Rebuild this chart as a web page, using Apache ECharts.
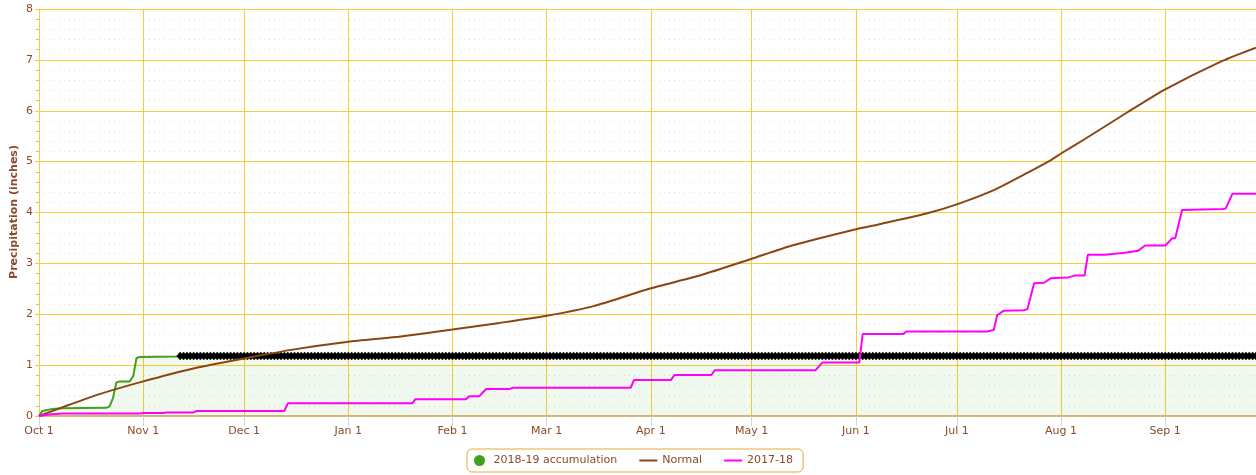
<!DOCTYPE html>
<html>
<head>
<meta charset="utf-8">
<script src="https://cdn.jsdelivr.net/npm/echarts@6/dist/echarts.min.js"></script>
<style>html,body{margin:0;padding:0;background:#fff}#c{width:1256px;height:475px}</style>
</head>
<body>
<div id="c"></div>
<script>
// ---- tick labels / categories (daily, Oct 1 2018 .. Sep 28 2019) ----
const monthNames = ['Jan','Feb','Mar','Apr','May','Jun','Jul','Aug','Sep','Oct','Nov','Dec'];
const categories = [];
for (let i = 0; i < 363; i++) {
  const dt = new Date(Date.UTC(2018, 9, 1 + i));
  categories.push(monthNames[dt.getUTCMonth()] + ' ' + dt.getUTCDate());
}
const yTicks = [0, 1, 2, 3, 4, 5, 6, 7, 8];
const yAxisTitle = 'Precipitation (inches)';

// ---- series values ----
const accum2019 = [
  ['Oct 1', 0], ['Oct 2', 0.10], ['Oct 5', 0.14], ['Oct 8', 0.15], ['Oct 21', 0.16],
  ['Oct 22', 0.19], ['Oct 23', 0.35], ['Oct 24', 0.66], ['Oct 25', 0.68], ['Oct 28', 0.68],
  ['Oct 29', 0.78], ['Oct 30', 1.14], ['Oct 31', 1.16], ['Nov 11', 1.17], ['Nov 12', 1.18]
];
const projectionValue = 1.18;
const projectionStart = 'Nov 12';

const normal = [
  ['Oct 1', 0], ['Oct 10', 0.22], ['Oct 19', 0.43], ['Nov 1', 0.68], ['Nov 15', 0.92], ['Dec 1', 1.13],
  ['Dec 15', 1.30], ['Jan 1', 1.46], ['Jan 16', 1.56], ['Feb 1', 1.70], ['Feb 15', 1.83],
  ['Mar 1', 1.97], ['Mar 15', 2.16], ['Apr 1', 2.51], ['Apr 16', 2.77], ['May 1', 3.09],
  ['May 13', 3.35], ['Jun 1', 3.67], ['Jun 8', 3.77], ['Jun 22', 3.98], ['Jul 1', 4.16],
  ['Jul 12', 4.44], ['Jul 22', 4.78], ['Jul 29', 5.03], ['Aug 1', 5.16], ['Aug 8', 5.44],
  ['Aug 21', 5.98], ['Sep 1', 6.42], ['Sep 18', 6.98], ['Sep 28', 7.24]
];

const prev1718 = [
  ['Oct 1', 0], ['Oct 4', 0.03], ['Oct 8', 0.05], ['Oct 31', 0.05], ['Nov 1', 0.06],
  ['Nov 7', 0.06], ['Nov 8', 0.07], ['Nov 16', 0.07], ['Nov 17', 0.10], ['Dec 13', 0.10],
  ['Dec 14', 0.25], ['Jan 20', 0.25], ['Jan 21', 0.33], ['Feb 5', 0.33], ['Feb 6', 0.39],
  ['Feb 9', 0.39], ['Feb 11', 0.53], ['Feb 18', 0.53], ['Feb 19', 0.555], ['Mar 26', 0.555],
  ['Mar 27', 0.71], ['Apr 7', 0.71], ['Apr 8', 0.805], ['Apr 19', 0.805], ['Apr 20', 0.90],
  ['May 20', 0.90], ['May 22', 1.05], ['Jun 2', 1.05], ['Jun 3', 1.61], ['Jun 15', 1.61],
  ['Jun 16', 1.66], ['Jul 10', 1.66], ['Jul 12', 1.69], ['Jul 13', 1.98], ['Jul 15', 2.07],
  ['Jul 21', 2.08], ['Jul 22', 2.10], ['Jul 24', 2.61], ['Jul 27', 2.62], ['Jul 29', 2.71],
  ['Aug 3', 2.72], ['Aug 5', 2.76], ['Aug 8', 2.76], ['Aug 9', 3.17], ['Aug 14', 3.17],
  ['Aug 20', 3.21], ['Aug 24', 3.25], ['Aug 26', 3.35], ['Sep 1', 3.35], ['Sep 3', 3.49],
  ['Sep 4', 3.50], ['Sep 6', 4.05], ['Sep 18', 4.07], ['Sep 19', 4.08], ['Sep 21', 4.37],
  ['Sep 28', 4.37]
];

const projection = categories.slice(categories.indexOf(projectionStart)).map(c => [c, projectionValue]);

const textColor = '#8a4a2a';
const gridYellow = '#f8cc3a';
const isMonthStart = (idx, val) => String(val).split(' ')[1] === '1';
const FONT = 'DejaVu Sans';
const lineIcon = 'path://M0,0H18V2H0Z';

const chart = echarts.init(document.getElementById('c'), null, {renderer: 'canvas'});
chart.setOption({
  animation: false,
  textStyle: {fontFamily: FONT},
  grid: {left: 39, right: 0, top: 9, bottom: 59, containLabel: false, outerBoundsMode: 'none'},
  graphic: [{
    type: 'text', x: 14, y: 212, rotation: Math.PI / 2,
    style: {text: yAxisTitle, fill: textColor, font: 'bold 11px "DejaVu Sans"', align: 'center', verticalAlign: 'middle'}
  }],
  legend: {
    left: 467, top: 449,
    padding: [6, 10, 6, 7],
    itemGap: 22, itemWidth: 18, itemHeight: 11,
    borderColor: '#e2ab3a', borderWidth: 1, borderRadius: 5,
    backgroundColor: '#fff',
    textStyle: {color: textColor, fontSize: 11, fontFamily: FONT},
    data: [
      {name: '2018-19 accumulation', icon: 'circle'},
      {name: 'Normal', icon: lineIcon},
      {name: '2017-18', icon: lineIcon}
    ]
  },
  xAxis: {
    type: 'category',
    data: categories,
    boundaryGap: false,
    axisLine: {show: true, lineStyle: {color: '#d9b878', width: 2}},
    axisTick: {show: true, interval: isMonthStart, length: 10, lineStyle: {color: '#ccd6eb'}},
    axisLabel: {interval: isMonthStart, color: textColor, fontSize: 11, margin: 10, fontFamily: FONT},
    splitLine: {show: true, interval: isMonthStart, lineStyle: {color: gridYellow, width: 1}}
  },
  yAxis: {
    type: 'value',
    min: yTicks[0], max: yTicks[yTicks.length - 1], interval: 1,
    axisLine: {show: true, lineStyle: {color: gridYellow}},
    axisTick: {show: true, length: 4, lineStyle: {color: gridYellow}},
    minorTick: {show: true, splitNumber: 5, length: 3, lineStyle: {color: '#bbbbbb'}},
    axisLabel: {color: textColor, fontSize: 11, margin: 6, fontFamily: FONT},
    splitLine: {show: true, lineStyle: {color: gridYellow, width: 1}},
    minorSplitLine: {show: true, lineStyle: {color: '#e2e2e2', type: [1, 4], width: 1}}
  },
  series: [
    {
      name: '2018-19 accumulation', type: 'line', data: accum2019,
      symbol: 'none', z: 2,
      itemStyle: {color: '#42a01f'},
      lineStyle: {color: '#42a01f', width: 2},
      areaStyle: {color: 'rgba(80,160,30,0.11)'}
    },
    {
      name: 'Projection', type: 'line', data: projection,
      symbol: 'diamond', symbolSize: [7, 8], showAllSymbol: true, z: 3,
      itemStyle: {color: '#000', borderColor: '#000', borderWidth: 0.5},
      lineStyle: {color: '#000', width: 2},
      areaStyle: {color: 'rgba(80,160,30,0.11)'}
    },
    {
      name: 'Normal', type: 'line', data: normal,
      symbol: 'none', smooth: 0.2, z: 4,
      itemStyle: {color: '#8b4513'},
      lineStyle: {color: '#8b4513', width: 2}
    },
    {
      name: '2017-18', type: 'line', data: prev1718,
      symbol: 'none', z: 5,
      itemStyle: {color: '#ff00ff'},
      lineStyle: {color: '#ff00ff', width: 2}
    }
  ]
});
</script>
</body>
</html>
